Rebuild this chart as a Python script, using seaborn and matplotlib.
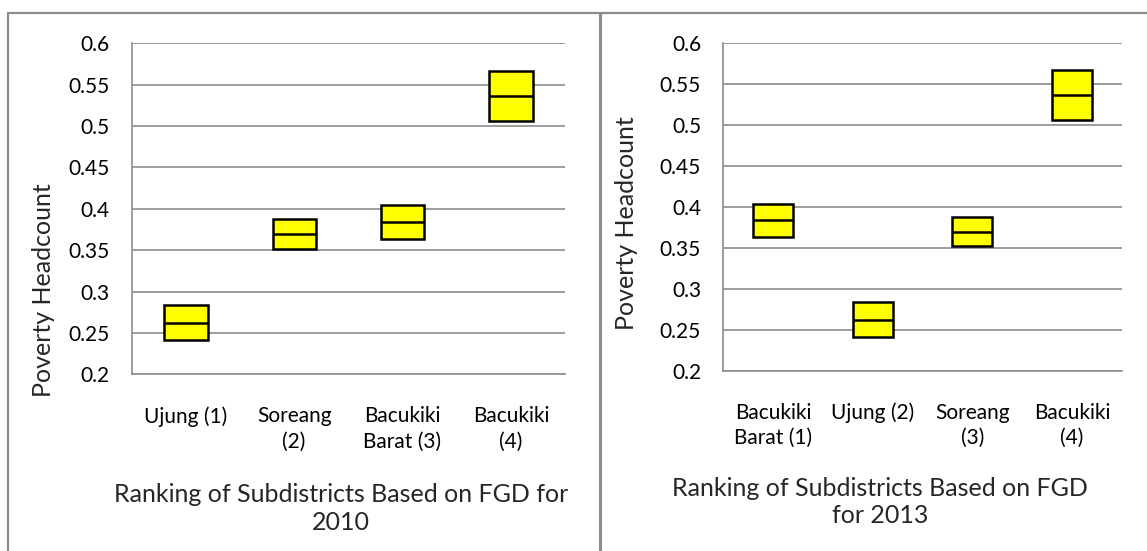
import numpy as np
import pandas as pd
import matplotlib
matplotlib.use("Agg")
import matplotlib.pyplot as plt
from matplotlib.lines import Line2D
import seaborn as sns

# ---- data ----
subdistricts = ["Ujung", "Soreang", "Bacukiki Barat", "Bacukiki"]
low_vals = [0.2415, 0.352, 0.3637, 0.5056]
mid_vals = [0.2625, 0.3694, 0.3839, 0.5363]
high_vals = [0.2835, 0.3875, 0.4040, 0.5665]

order_2010 = ["Ujung", "Soreang", "Bacukiki Barat", "Bacukiki"]
labels_2010 = ["Ujung (1)", "Soreang\n(2)", "Bacukiki\nBarat (3)", "Bacukiki\n(4)"]
order_2013 = ["Bacukiki Barat", "Ujung", "Soreang", "Bacukiki"]
labels_2013 = ["Bacukiki\nBarat (1)", "Ujung (2)", "Soreang\n(3)", "Bacukiki\n(4)"]

y_ticks = [0.2, 0.25, 0.3, 0.35, 0.4, 0.45, 0.5, 0.55, 0.6]
y_tick_labels = ["0.2", "0.25", "0.3", "0.35", "0.4", "0.45", "0.5", "0.55", "0.6"]

ylabel_text = "Poverty Headcount"
xlabel_2010 = "Ranking of Subdistricts Based on FGD for\n2010"
xlabel_2013 = "Ranking of Subdistricts Based on FGD\nfor 2013"

# long-form table: low, low, mid, high, high -> Q1=low, median=mid, Q3=high
rows = []
for name, lo, md, hi in zip(subdistricts, low_vals, mid_vals, high_vals):
    for v in (lo, lo, md, hi, hi):
        rows.append({"sub": name, "val": v})
df = pd.DataFrame(rows)

sns.set_style("white")
plt.rcParams["font.family"] = ["Lato", "DejaVu Sans"]

GRAY = "#8c8c8c"
TICK_FS = 15
LABEL_FS = 18

fig = plt.figure(figsize=(11.47, 5.51), dpi=100)
fig.patch.set_facecolor("white")

W, H = 1147.0, 551.0
panels = [
    dict(rect=[0.1148, 0.3207, 0.3778, 0.6007], order=order_2010, labels=labels_2010,
         xlabel=xlabel_2010, xl=(0.483, -0.405), yl=(-0.2024, 0.2547)),
    dict(rect=[0.6306, 0.3272, 0.3473, 0.5947], order=order_2013, labels=labels_2013,
         xlabel=xlabel_2013, xl=(0.393, -0.4007), yl=(-0.2437, 0.4507)),
]

for p in panels:
    ax = fig.add_axes(p["rect"])
    sns.boxplot(data=df, x="sub", y="val", order=p["order"], ax=ax,
                width=0.4, color="#ffff00", saturation=1, whis=0,
                showcaps=False, showfliers=False,
                linecolor="black", linewidth=1.8,
                medianprops=dict(color="black", linewidth=1.8, zorder=5),
                boxprops=dict(edgecolor="black", linewidth=1.8))
    ax.set_xlim(-0.5, 3.5)
    ax.set_ylim(0.2, 0.6)
    ax.set_yticks(y_ticks)
    ax.set_yticklabels(y_tick_labels, fontsize=TICK_FS)
    ax.set_xticks(range(4))
    ax.set_xticklabels(p["labels"], fontsize=TICK_FS)
    for t in ax.get_xticklabels():
        t.set_linespacing(1.35)
    ax.set_xticks(np.arange(-0.5, 4.0, 1.0), minor=True)
    ax.tick_params(axis="x", which="major", length=0, pad=23, colors="black")
    ax.tick_params(axis="x", which="minor", length=5, width=1.2, color=GRAY, direction="out")
    ax.tick_params(axis="y", which="major", length=5, width=1.2, color=GRAY,
                   direction="out", pad=11, labelcolor="black")
    ax.yaxis.grid(True, color=GRAY, linewidth=1.2)
    ax.xaxis.grid(False)
    ax.set_axisbelow(True)
    for s in ["top", "right"]:
        ax.spines[s].set_visible(False)
    for s in ["left", "bottom"]:
        ax.spines[s].set_color(GRAY)
        ax.spines[s].set_linewidth(1.2)
    ax.set_ylabel(ylabel_text, fontsize=LABEL_FS, va="center", ha="center")
    ax.yaxis.set_label_coords(*p["yl"])
    ax.set_xlabel(p["xlabel"], fontsize=LABEL_FS, va="center", ha="center", linespacing=1.25)
    ax.xaxis.set_label_coords(*p["xl"])
    ax.set_facecolor("white")

# panel borders
def fx(px):
    return px / W

def fy(py):
    return 1 - py / H

fig.add_artist(Line2D([fx(8.3), 1.0], [fy(13.3), fy(13.3)], color=GRAY, lw=1.6))
fig.add_artist(Line2D([fx(8.3), fx(8.3)], [fy(13.3), 0.0], color=GRAY, lw=1.6))
fig.add_artist(Line2D([fx(600), fx(600)], [fy(13.3), 0.0], color=GRAY, lw=2.2))

fig.savefig("out.png", dpi=100, facecolor="white")
